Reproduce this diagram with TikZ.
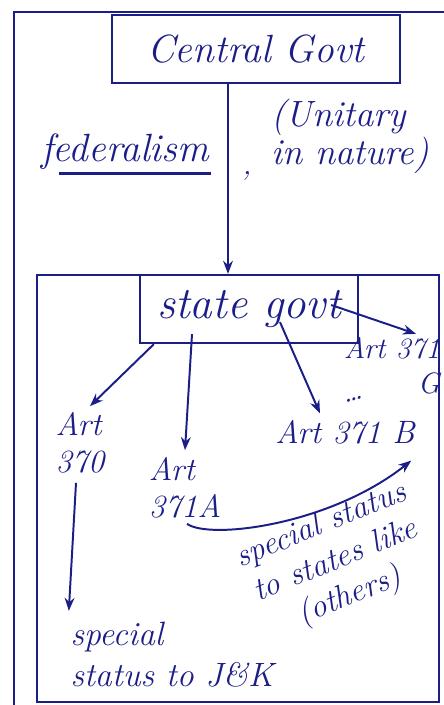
\documentclass[tikz,border=0pt]{standalone}
\usetikzlibrary{positioning,arrows.meta}
\definecolor{ink}{RGB}{28,30,135}

\begin{document}
\begin{tikzpicture}[x=0.025cm, y=-0.025cm, >=Stealth, every node/.style={text=ink, font=\itshape}]
  % Styles
  \tikzset{
    govbox/.style={draw=ink, line width=1.6pt, minimum height=1.7cm, align=center},
    artlabel/.style={align=left, inner sep=1pt, font=\itshape\fontsize{23}{26}\selectfont},
    note/.style={align=left, inner sep=1pt, font=\itshape\fontsize{22}{26}\selectfont},
    frame/.style={draw=ink, line width=1.6pt},
    arrow/.style={->, draw=ink, line width=1.4pt}
  }
  \useasboundingbox (0,0) rectangle (444,705);

  % Frames
  \draw[frame] (14,705) -- (14,12) -- (444,12);
  \draw[frame] (37,275) rectangle (439,702);

  % Nodes
  \node[govbox, minimum width=7.2cm, font=\itshape\fontsize{28}{32}\selectfont] (central) at (256,49) {Central Govt};
  \node[govbox, minimum width=5.45cm, font=\itshape\fontsize{32}{34}\selectfont] (state) at (249,309) {state govt};

  \node[note, font=\itshape\fontsize{28}{30}\selectfont] (fed) at (125,152) {federalism};
  \node[note, font=\itshape\fontsize{26}{27}\selectfont] (unitary) at (350,136) {(Unitary\\ in nature)};
  \node[note] (comma) at (247,176) {,};

  \node[artlabel] (art370) at (80,443) {Art\\370};
  \node[artlabel] (art371a) at (185,488) {Art\\371A};
  \node[artlabel] (art371b) at (345,432) {Art 371 B};
  \node[artlabel, align=right, font=\itshape\fontsize{21}{25}\selectfont] (art371g) at (392,366) {Art 371\\G};
  \node[note, rotate=15] (dots) at (354,399) {\dots};

  \node[note, font=\itshape\fontsize{24}{29}\selectfont] (jk) at (172,655) {special\\status to J\&K};
  \node[note, align=center, rotate=22, font=\itshape\fontsize{23}{27}\selectfont] (others) at (336,562) {special status\\to states like\\(others)};

  % underline of federalism
  \draw[frame] ([shift={(20,2)}]fed.south west) -- ([shift={(0,2)}]fed.south east);

  % Arrows: central -> state
  \draw[arrow] ([shift={(-28,0)}]central.south) -- ([shift={(-21,0)}]state.north);

  % state -> articles
  \draw[arrow] ([shift={(15,0)}]state.south west) -- ([shift={(10,-5)}]art370.north);
  \draw[arrow] ([shift={(-57,-10)}]state.south) -- ([shift={(0,-6)}]art371a.north);
  \draw[arrow] ([shift={(31,-22)}]state.south) -- ([shift={(-25,-5)}]art371b.north);
  \draw[arrow] ([shift={(-28,-4)}]state.east) -- ([shift={(24,-2)}]art371g.north);

  % art370 -> J&K
  \draw[arrow] ([shift={(-4,8)}]art370.south) -- ([shift={(0,-10)}]jk.north west);

  % art371a -> art371b (curved)
  \draw[arrow] ([shift={(2,4)}]art371a.south) .. controls (210,540) and (330,525) .. ([shift={(-5,15)}]art371b.south east);
\end{tikzpicture}
\end{document}
